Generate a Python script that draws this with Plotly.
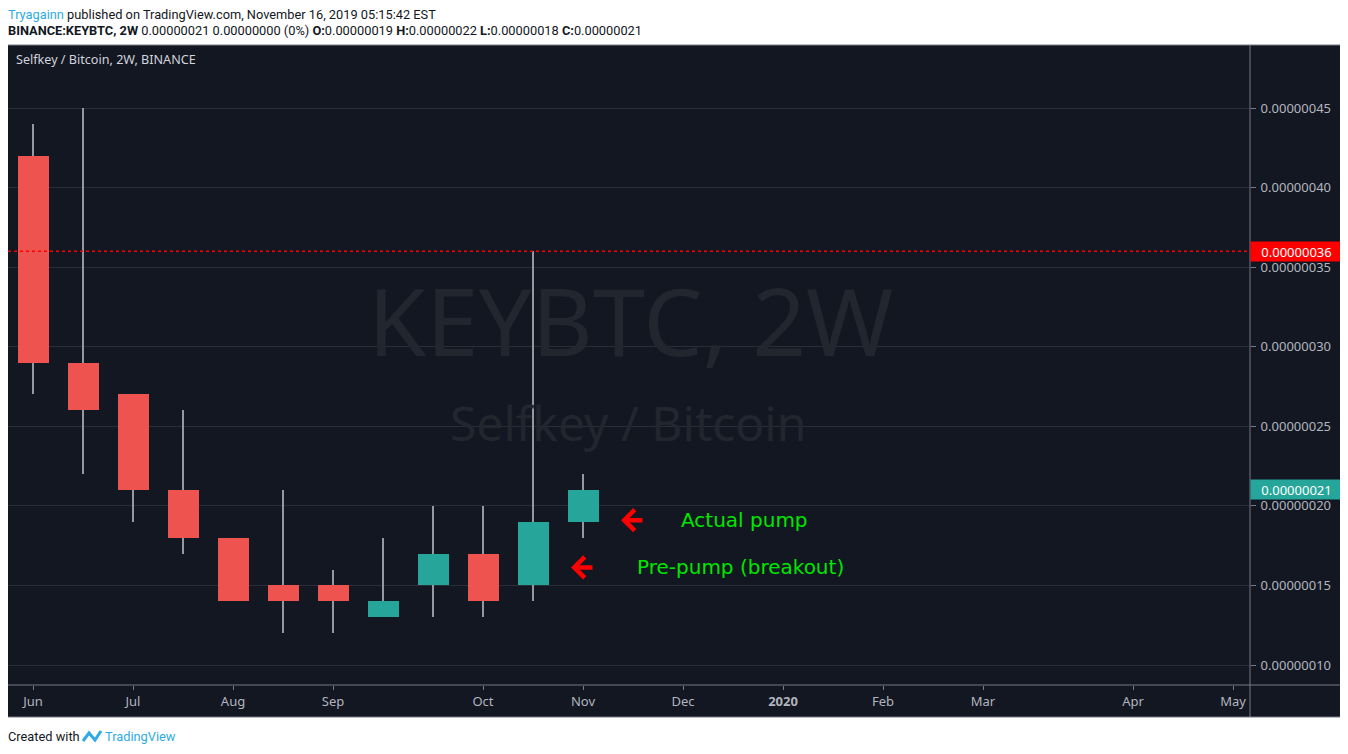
import plotly.graph_objects as go

# ---------------- data (prices in satoshi = 1e-8 BTC) ----------------
bar_dates = ["2019-06-03", "2019-06-17", "2019-07-01", "2019-07-15", "2019-07-29", "2019-08-12",
             "2019-08-26", "2019-09-09", "2019-09-23", "2019-10-07", "2019-10-21", "2019-11-04"]
open_sat = [42, 29, 27, 21, 18, 15, 15, 13, 15, 17, 15, 19]
high_sat = [44, 45, 27, 26, 18, 21, 16, 18, 20, 20, 36, 22]
low_sat = [27, 22, 19, 17, 14, 12, 12, 13, 13, 13, 14, 18]
close_sat = [29, 26, 21, 18, 14, 14, 14, 14, 17, 14, 19, 21]

month_labels = ["Jun", "Jul", "Aug", "Sep", "Oct", "Nov", "Dec", "<b>2020</b>", "Feb", "Mar", "Apr", "May"]
month_bar_index = [0, 2, 4, 6, 9, 11, 13, 15, 17, 19, 22, 24]

price_ticks_sat = [10, 15, 20, 25, 30, 35, 40, 45]

pump_bar = 10          # bar whose high marks the dashed resistance line
note_texts = ["Actual pump", "Pre-pump (breakout)"]
note_bar = [11.76, 10.76]      # where the arrow heads point (bar units)
note_price_sat = [19.1, 16.13]
note_text_bar = [14.22, 14.14]

SAT = 1e-8
UP = "#26a69a"
DOWN = "#ef5350"
BG = "#131722"
GRID = "#2a2e39"
FRAME = "#787b86"
TXT = "#b2b5be"

o = [v * SAT for v in open_sat]
h = [v * SAT for v in high_sat]
l = [v * SAT for v in low_sat]
c = [v * SAT for v in close_sat]
idx = list(range(len(bar_dates)))

# ---------------- layout geometry (screen pixels) ----------------
OFF = 8                      # page body margin
W, H = 1348 - OFF, 754 - OFF
PL, PR, PT, PB = 7, 1250, 46, 685   # plot area in screen pixels
ML = max(PL - OFF, 0)
MT = PT - OFF
MR = W - (PR - OFF)
MB = H - (PB - OFF)
PW = W - ML - MR
PH = H - MT - MB
BAR0_X, BAR_PX = 33, 50      # screen x of first bar, pixels per bar


def px(x):
    return (x - OFF - ML) / PW


def py(y):
    return (H - MB - (y - OFF)) / PH


fig = go.Figure()

# wicks (thin bars so that bodies can be drawn on top)
fig.add_trace(go.Bar(
    x=idx, y=[h[i] - l[i] for i in idx], base=l, width=1.0 / BAR_PX,
    marker=dict(color="#9598a1", line=dict(width=0)), hoverinfo="skip", showlegend=False,
))

# bodies
fig.add_trace(go.Bar(
    x=idx,
    y=[abs(c[i] - o[i]) for i in idx],
    base=[min(o[i], c[i]) for i in idx],
    width=0.62,
    marker=dict(color=[UP if c[i] > o[i] else DOWN for i in idx], line=dict(width=0)),
    customdata=list(zip(bar_dates, o, h, l, c)),
    hovertemplate="%{customdata[0]}<br>O %{customdata[1]:.8f}<br>H %{customdata[2]:.8f}"
                  "<br>L %{customdata[3]:.8f}<br>C %{customdata[4]:.8f}<extra></extra>",
    showlegend=False,
))

last_i = idx[-1]
res = h[pump_bar]

shapes = [
    dict(type="rect", xref="paper", yref="paper", x0=px(5), x1=px(1341), y0=py(717), y1=py(45),
         fillcolor=BG, line=dict(color=FRAME, width=1), layer="below"),
    dict(type="line", xref="paper", yref="paper", x0=1, x1=1, y0=py(717), y1=py(45),
         line=dict(color=FRAME, width=1)),
    dict(type="line", xref="paper", yref="paper", x0=px(5), x1=px(1341), y0=0, y1=0,
         line=dict(color=FRAME, width=1)),
    dict(type="line", xref="paper", yref="y", x0=0, x1=1, y0=res, y1=res,
         line=dict(color="#ff0000", width=1.5, dash="dot")),
    dict(type="path", xref="paper", yref="paper",
         path=f"M {px(83)},{py(741)} L {px(89)},{py(733)} L {px(95)},{py(740)} L {px(101)},{py(731)}",
         line=dict(color="#2eabe2", width=3)),
]

HF = dict(family="Roboto", size=12.8, color="#131722")
LBL = dict(family="Noto Sans", size=13, color="#ffffff")
ann = []
ann.append(dict(xref="paper", yref="paper", x=px(630), y=py(320), text="KEYBTC, 2W", showarrow=False,
                font=dict(family="Noto Sans", size=94, color="#22262f"), xanchor="center", yanchor="middle"))
ann.append(dict(xref="paper", yref="paper", x=px(628), y=py(422), text="Selfkey / Bitcoin", showarrow=False,
                font=dict(family="Noto Sans", size=48, color="#22262f"), xanchor="center", yanchor="middle"))
ann.append(dict(xref="paper", yref="paper", x=px(14), y=py(60), text="Selfkey / Bitcoin, 2W, BINANCE",
                showarrow=False, font=dict(family="Noto Sans", size=12.6, color="#d1d4dc"),
                xanchor="left", yanchor="middle"))
ann.append(dict(xref="paper", yref="paper", x=px(6), y=py(15),
                text="<span style='color:#2eabe2'>Tryagainn</span> published on TradingView.com, "
                     "November 16, 2019 05:15:42 EST",
                showarrow=False, font=HF, xanchor="left", yanchor="middle"))
ann.append(dict(xref="paper", yref="paper", x=px(6), y=py(30),
                text=f"<b>BINANCE:KEYBTC, 2W</b> {c[last_i]:.8f} 0.00000000 (0%) "
                     f"<b>O:</b>{o[last_i]:.8f} <b>H:</b>{h[last_i]:.8f} "
                     f"<b>L:</b>{l[last_i]:.8f} <b>C:</b>{c[last_i]:.8f}",
                showarrow=False, font=HF, xanchor="left", yanchor="middle"))
ann.append(dict(xref="paper", yref="paper", x=px(6), y=py(736), text="Created with", showarrow=False,
                font=HF, xanchor="left", yanchor="middle"))
ann.append(dict(xref="paper", yref="paper", x=px(103), y=py(736), text="TradingView", showarrow=False,
                font=dict(family="Roboto", size=12.8, color="#2eabe2"), xanchor="left", yanchor="middle"))
for val, col in [(res, "#ff0000"), (c[last_i], UP)]:
    ann.append(dict(xref="paper", yref="y", x=1, y=val, text=f"{val:.8f}", showarrow=False,
                    xanchor="left", yanchor="middle", bgcolor=col, width=87, height=15, borderpad=2,
                    align="center", font=LBL))
for t, xb, yb, xt in zip(note_texts, note_bar, note_price_sat, note_text_bar):
    ann.append(dict(x=xb, y=yb * SAT, xref="x", yref="y", showarrow=True, ax=23, ay=0, text="",
                    arrowhead=4, arrowsize=0.9, arrowwidth=4.5, arrowcolor="#ff0000", standoff=0))
    ann.append(dict(x=xt, y=yb * SAT, xref="x", yref="y", text=t, showarrow=False,
                    font=dict(family="DejaVu Sans", size=20, color="#00e600"),
                    xanchor="center", yanchor="middle"))

fig.update_layout(
    width=W, height=H, autosize=False,
    margin=dict(l=ML, r=MR, t=MT, b=MB, pad=0),
    paper_bgcolor="#ffffff", plot_bgcolor=BG,
    showlegend=False, barmode="overlay", bargap=0,
    shapes=shapes, annotations=ann,
    xaxis=dict(range=[(OFF + ML - BAR0_X) / BAR_PX, (PR - BAR0_X) / BAR_PX],
               tickmode="array", tickvals=month_bar_index, ticktext=month_labels,
               showgrid=False, zeroline=False, showline=False, ticks="outside", ticklen=4,
               tickcolor=FRAME, tickfont=dict(family="Noto Sans", size=13, color=TXT), fixedrange=True),
    yaxis=dict(side="right", range=[0.08743e-6, 0.48896e-6], tickmode="array",
               tickvals=[v * SAT for v in price_ticks_sat], tickformat=".8f",
               showgrid=True, gridcolor=GRID, gridwidth=1, zeroline=False, showline=False,
               ticks="outside", ticklen=5, tickcolor=FRAME, ticklabelstandoff=2,
               tickfont=dict(family="Noto Sans", size=13, color=TXT), fixedrange=True),
)

fig.write_html("out.html")
